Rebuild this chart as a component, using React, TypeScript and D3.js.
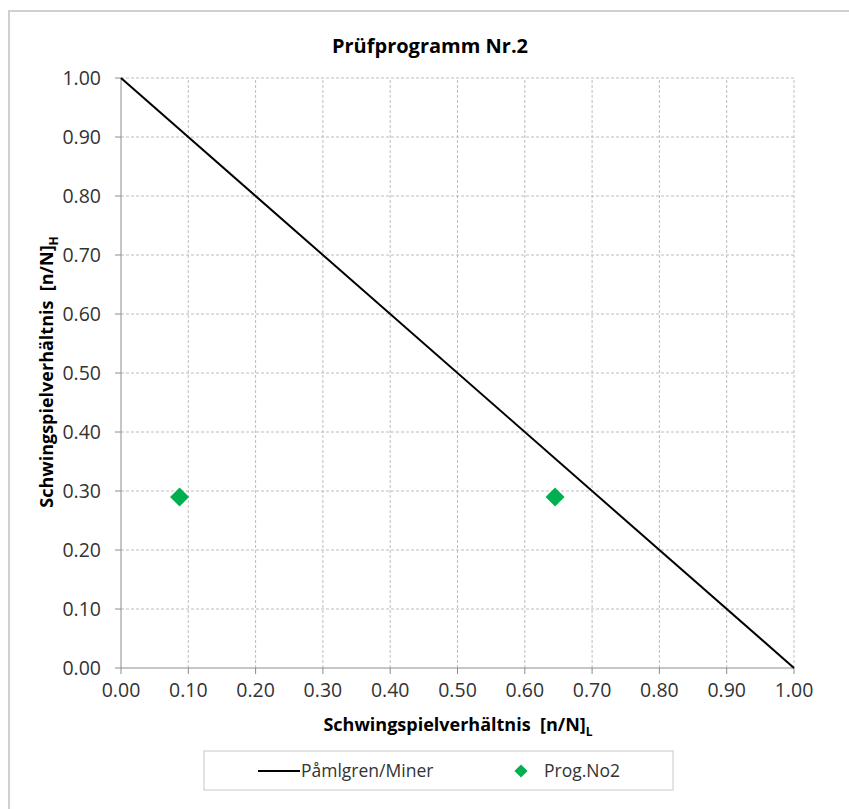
import React from "react";
import * as d3 from "d3";

const lineX = [0, 1];
const lineY = [1, 0];
const progX = [0.087, 0.645];
const progY = [0.29, 0.29];
const xTicks = [0, 0.1, 0.2, 0.3, 0.4, 0.5, 0.6, 0.7, 0.8, 0.9, 1.0];
const yTicks = [0, 0.1, 0.2, 0.3, 0.4, 0.5, 0.6, 0.7, 0.8, 0.9, 1.0];
const title = "Prüfprogramm Nr.2";
const xTitle = "Schwingspielverhältnis  [n/N]";
const xSub = "L";
const yTitle = "Schwingspielverhältnis  [n/N]";
const ySub = "H";
const seriesNames = ["Påmlgren/Miner", "Prog.No2"];

const W = 849;
const H = 809;
const FONT = "'Open Sans', 'Noto Sans', sans-serif";

export default function App() {
  const x = d3.scaleLinear().domain([0, 1]).range([121, 794]);
  const y = d3.scaleLinear().domain([0, 1]).range([668, 78]);
  const line = d3
    .line<number>()
    .x((_, i) => x(lineX[i]))
    .y((_, i) => y(lineY[i]));
  const diamond = d3.symbol().type(d3.symbolDiamond2).size(230)();
  const fmt = d3.format(".2f");

  return (
    <svg
      width={W}
      height={H}
      style={{ position: "absolute", left: 0, top: 0, background: "#fff", whiteSpace: "pre" }}
      fontFamily={FONT}
    >
      <rect x={9} y={11} width={W} height={H} fill="#fff" stroke="#d0d0d0" strokeWidth={2} />
      <text x={430} y={53} textAnchor="middle" fontSize={20} fontWeight="bold" fill="#000">
        {title}
      </text>
      {xTicks.slice(1).map((t) => (
        <line key={"gx" + t} x1={x(t)} x2={x(t)} y1={y(0)} y2={y(1)} stroke="#bdbdbd" strokeDasharray="3,2" strokeWidth={1} />
      ))}
      {yTicks.slice(1).map((t) => (
        <line key={"gy" + t} x1={x(0)} x2={x(1)} y1={y(t)} y2={y(t)} stroke="#bdbdbd" strokeDasharray="3,2" strokeWidth={1} />
      ))}
      <line x1={x(0)} x2={x(0)} y1={y(0)} y2={y(1)} stroke="#8c8c8c" strokeWidth={1} />
      <line x1={x(0)} x2={x(1)} y1={y(0)} y2={y(0)} stroke="#8c8c8c" strokeWidth={1} />
      {yTicks.map((t) => (
        <g key={"ty" + t}>
          <line x1={x(0) - 6} x2={x(0)} y1={y(t)} y2={y(t)} stroke="#8c8c8c" />
          <text x={101} y={y(t) + 7} textAnchor="end" fontSize={19.5} fill="#333">
            {fmt(t)}
          </text>
        </g>
      ))}
      {xTicks.map((t) => (
        <g key={"tx" + t}>
          <line x1={x(t)} x2={x(t)} y1={y(0)} y2={y(0) + 6} stroke="#8c8c8c" />
          <text x={x(t)} y={697} textAnchor="middle" fontSize={19.5} fill="#333">
            {fmt(t)}
          </text>
        </g>
      ))}
      <text x={458} y={731} textAnchor="middle" fontSize={18} fontWeight="bold" fill="#000" xmlSpace="preserve">
        {xTitle}
        <tspan fontSize={12} dy={5}>{xSub}</tspan>
      </text>
      <text
        transform={`translate(53,${372}) rotate(-90)`}
        textAnchor="middle"
        fontSize={18}
        fontWeight="bold"
        fill="#000"
        xmlSpace="preserve"
      >
        {yTitle}
        <tspan fontSize={12} dy={5}>{ySub}</tspan>
      </text>
      <path d={line(lineX) || ""} fill="none" stroke="#000" strokeWidth={2} />
      {progX.map((v, i) => (
        <path key={"p" + i} d={diamond || ""} transform={`translate(${x(v)},${y(progY[i])})`} fill="#00b050" />
      ))}
      <rect x={204} y={751} width={469} height={39} fill="#fff" stroke="#c8c8c8" strokeWidth={1} />
      <line x1={258} x2={300} y1={771} y2={771} stroke="#000" strokeWidth={2} />
      <text x={301} y={777} fontSize={17.5} fill="#333">{seriesNames[0]}</text>
      <path d={d3.symbol().type(d3.symbolDiamond2).size(110)() || ""} transform="translate(521,771)" fill="#00b050" />
      <text x={544} y={777} fontSize={17.5} fill="#333">{seriesNames[1]}</text>
    </svg>
  );
}
